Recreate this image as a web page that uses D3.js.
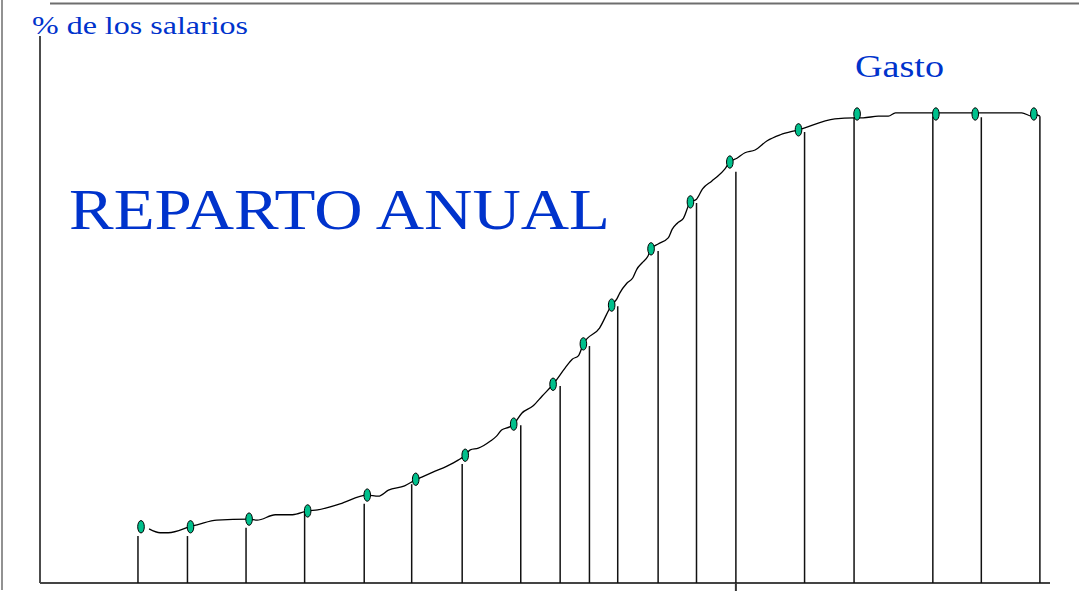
<!DOCTYPE html>
<html>
<head>
<meta charset="utf-8">
<title>Reparto anual</title>
<script src="https://cdn.jsdelivr.net/npm/d3@7"></script>
<style>
    body { margin: 0; background: #fff; }
    svg { display: block; }
    .label { font-family: "Liberation Serif", "Times New Roman", serif; fill: #0033cc; }
</style>
</head>
<body>
<div id="chart"></div>
<script>
// payment points: position in the year (0-100) and % of salaries paid
var pointX = [10.0, 14.9, 20.7, 26.5, 32.4, 37.2, 42.1, 46.9, 50.8, 53.8, 56.6, 60.5, 64.4, 68.3, 75.1, 80.9, 88.7, 92.6, 98.4];
var pointY = [10.3, 10.3, 11.7, 13.2, 16.1, 19.0, 23.4, 29.1, 36.4, 43.8, 50.9, 61.2, 69.8, 77.1, 83.0, 85.9, 85.9, 85.9, 85.9];

// vertical drops under each point (slightly offset, as in the slide)
var dropX = [9.7, 14.6, 20.4, 26.2, 32.1, 36.8, 41.8, 47.6, 51.5, 54.4, 57.2, 61.2, 65.0, 68.9, 75.7, 80.6, 88.4, 93.2, 99.0];
var dropTop = [8.6, 8.6, 10.1, 13.0, 14.5, 18.1, 21.8, 28.9, 36.1, 43.4, 50.7, 60.8, 69.6, 75.3, 82.6, 85.2, 85.5, 85.3, 85.5];

// hand drawn "Gasto" curve
var curveX = [10.8, 11.9, 12.7, 15.0, 15.8, 17.5, 20.7, 21.5, 23.3, 25.0, 26.5, 27.5, 29.7, 32.4, 33.5, 34.5, 36.1, 37.2,
    37.8, 38.9, 40.3, 41.4, 42.1, 42.6, 43.4, 44.6, 45.2, 45.7, 46.5, 46.9, 47.7, 48.8, 49.7, 50.8, 52.0, 52.7, 53.3, 53.8,
    55.4, 56.6, 57.1, 57.4, 58.1, 58.7, 59.1, 59.6, 60.2, 60.5, 61.2, 62.2, 62.6, 63.1, 63.7, 64.4, 65.0, 65.6, 66.5, 67.1,
    67.8, 68.3, 69.0, 69.8, 70.8, 72.0, 73.3, 75.1, 78.7, 80.6, 81.5, 83.0, 84.0, 84.7, 97.2, 98.2, 98.4, 99.0];
var curveY = [9.9, 9.2, 9.2, 10.4, 10.8, 11.5, 11.7, 11.5, 12.5, 12.5, 13.2, 13.4, 14.5, 16.1, 15.9, 17.0, 17.8, 18.9,
    19.4, 20.3, 21.4, 22.5, 23.4, 24.4, 24.7, 26.0, 26.9, 28.0, 28.6, 29.1, 31.1, 32.4, 34.2, 36.4, 39.4, 41.0, 41.6, 43.8,
    46.7, 50.9, 52.0, 53.1, 54.9, 55.9, 57.5, 58.6, 59.9, 61.2, 62.1, 63.2, 64.8, 65.9, 66.8, 69.8, 70.3, 72.2, 73.6, 74.5,
    75.8, 77.1, 77.8, 78.8, 79.3, 81.0, 82.1, 83.0, 85.0, 85.2, 85.2, 85.5, 85.5, 86.1, 86.1, 85.5, 85.9, 85.5];

// the one tick mark on the time axis
var xTicks = [68.9];

var width = 1087,
    height = 598;

var svg = d3.select("#chart").append("svg")
    .attr("width", width)
    .attr("height", height)
;

var x = d3.scaleLinear().domain([0, 100]).range([40, 1050]);
var y = d3.scaleLinear().domain([0, 100]).range([583, 37]);

// slide frame lines
svg.append("line")
    .attr("x1", 50).attr("x2", 1079)
    .attr("y1", 3.5).attr("y2", 3.5)
    .attr("stroke", "#6e6e6e")
    .attr("stroke-width", 2)
;
svg.append("line")
    .attr("x1", 2).attr("x2", 2)
    .attr("y1", 0).attr("y2", 590)
    .attr("stroke", "#6e6e6e")
    .attr("stroke-width", 1.5)
;

// axes
svg.append("line")
    .attr("x1", x(0)).attr("x2", x(0))
    .attr("y1", 36).attr("y2", y(0))
    .attr("stroke", "#111")
    .attr("stroke-width", 1.5)
;
svg.append("line")
    .attr("x1", x(0)).attr("x2", x(100))
    .attr("y1", y(0)).attr("y2", y(0))
    .attr("stroke", "#444")
    .attr("stroke-width", 2)
;
svg.selectAll("line.tick").data(xTicks).enter().append("line")
    .attr("class", "tick")
    .attr("x1", function (d) { return x(d); })
    .attr("x2", function (d) { return x(d); })
    .attr("y1", y(0))
    .attr("y2", y(0) + 8)
    .attr("stroke", "#333")
    .attr("stroke-width", 2)
;

// drops
svg.selectAll("line.drop").data(dropX).enter().append("line")
    .attr("class", "drop")
    .attr("x1", function (d) { return x(d); })
    .attr("x2", function (d) { return x(d); })
    .attr("y1", function (d, i) { return y(dropTop[i]); })
    .attr("y2", y(0))
    .attr("stroke", "#111")
    .attr("stroke-width", 1.5)
;

// curve
var line = d3.line()
    .x(function (d) { return x(d[0]); })
    .y(function (d) { return y(d[1]); })
    .curve(d3.curveMonotoneX)
;
svg.append("path")
    .datum(d3.zip(curveX, curveY))
    .attr("d", line)
    .attr("fill", "none")
    .attr("stroke", "#000")
    .attr("stroke-width", 1.3)
    .attr("stroke-linejoin", "round")
;

// points
svg.selectAll("ellipse").data(pointX).enter().append("ellipse")
    .attr("cx", function (d) { return x(d); })
    .attr("cy", function (d, i) { return y(pointY[i]); })
    .attr("rx", 3.3)
    .attr("ry", 6.2)
    .attr("fill", "#00c08c")
    .attr("stroke", "#000")
    .attr("stroke-width", 1)
;

// texts
svg.append("text")
    .attr("class", "label")
    .attr("x", 32)
    .attr("y", 34)
    .attr("font-size", 26)
    .attr("textLength", 216)
    .attr("lengthAdjust", "spacingAndGlyphs")
    .text("% de los salarios")
;
svg.append("text")
    .attr("class", "label")
    .attr("x", 855)
    .attr("y", 77)
    .attr("font-size", 31)
    .attr("textLength", 89)
    .attr("lengthAdjust", "spacingAndGlyphs")
    .text("Gasto")
;
svg.append("text")
    .attr("class", "label")
    .attr("x", 69)
    .attr("y", 229)
    .attr("font-size", 56)
    .attr("textLength", 541)
    .attr("lengthAdjust", "spacingAndGlyphs")
    .text("REPARTO ANUAL")
;
</script>
</body>
</html>
